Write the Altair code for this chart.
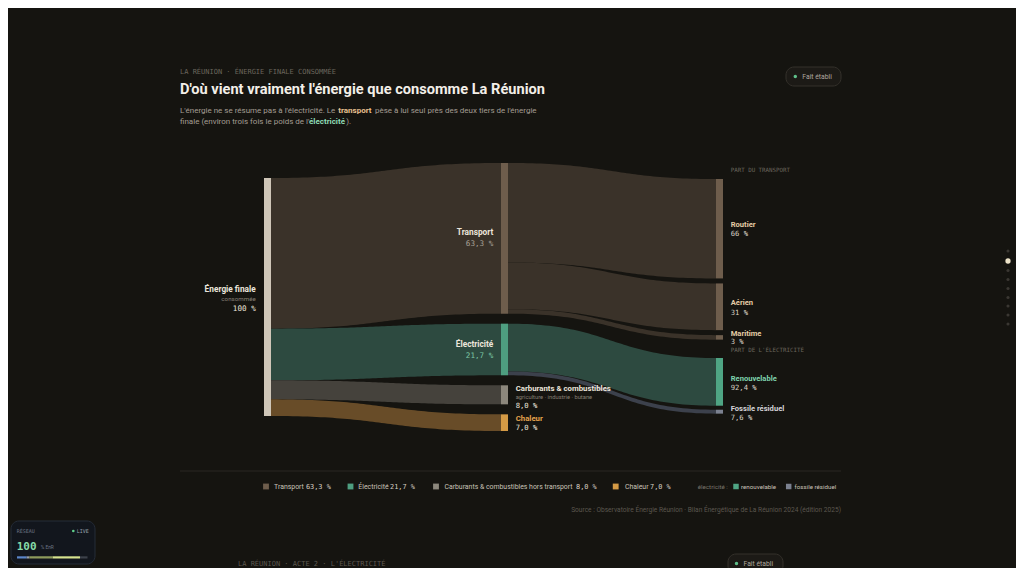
import altair as alt
import pandas as pd
import numpy as np

# ---------------- data ----------------
categories = ["Transport", "Électricité", "Carburants & combustibles", "Chaleur"]
shares = [63.3, 21.7, 8.0, 7.0]
transport_modes = ["Routier", "Aérien", "Maritime"]
transport_pct = [66, 31, 3]
elec_sources = ["Renouvelable", "Fossile résiduel"]
elec_pct = [92.4, 7.6]
share_labels = ["63,3 %", "21,7 %", "8,0 %", "7,0 %"]
transport_labels = ["66 %", "31 %", "3 %"]
elec_labels = ["92,4 %", "7,6 %"]

# ---------------- style / layout ----------------
BG = "#151410"
PX = 2.38          # pixels per percent of final energy
LEFT_TOP, MID_TOP, MID_GAP = 178, 163, 10
RT_TOP, RT_GAP = 179, 5
RE_TOP, RE_GAP = 358, 4
XL, XM, XR, NW = 264, 501, 716, 7
node_cols = ["#6e5d4c", "#4e9e80", "#8c877c", "#d49a45"]
link_cols = ["#3a3229", "#2d4a40", "#45423c", "#684c28"]
tmode_node, tmode_link = "#6e5d4c", "#3a3229"
elec_node = ["#4fa584", "#7b8190"]
elec_link = ["#2d4a40", "#3c414c"]

XS = alt.Scale(domain=[8, 1016], nice=False, zero=False)
YS = alt.Scale(domain=[8, 568], nice=False, zero=False, reverse=True)


def X(f):
    return alt.X(f, type="quantitative", scale=XS, axis=None)


def Y(f):
    return alt.Y(f, type="quantitative", scale=YS, axis=None, stack=None)


# ---------------- nodes ----------------
nodes = []
nodes.append(dict(x=XL, x2=XL + NW, y=LEFT_TOP, y2=LEFT_TOP + 100 * PX, c="#cfc6b8"))
left_seg, mid_seg = [], []
cum = 0.0
for i, s in enumerate(shares):
    left_seg.append((LEFT_TOP + cum * PX, LEFT_TOP + (cum + s) * PX))
    top = MID_TOP + cum * PX + i * MID_GAP
    mid_seg.append((top, top + s * PX))
    nodes.append(dict(x=XM, x2=XM + NW, y=top, y2=top + s * PX, c=node_cols[i]))
    cum += s

links = []
for i in range(4):
    links.append((f"l{i}", XL + NW, XM, left_seg[i], mid_seg[i], link_cols[i]))

right_t = []
cum = 0.0
for j, p in enumerate(transport_pct):
    v = shares[0] * p / 100
    src = (mid_seg[0][0] + cum * PX, mid_seg[0][0] + (cum + v) * PX)
    top = RT_TOP + cum * PX + j * RT_GAP
    right_t.append((top, top + v * PX))
    nodes.append(dict(x=XR, x2=XR + NW, y=top, y2=top + v * PX, c=tmode_node))
    links.append((f"t{j}", XM + NW, XR, src, right_t[-1], tmode_link))
    cum += v

right_e = []
cum = 0.0
for j, p in enumerate(elec_pct):
    v = shares[1] * p / 100
    src = (mid_seg[1][0] + cum * PX, mid_seg[1][0] + (cum + v) * PX)
    top = RE_TOP + cum * PX + j * RE_GAP
    right_e.append((top, top + v * PX))
    nodes.append(dict(x=XR, x2=XR + NW, y=top, y2=top + v * PX, c=elec_node[j]))
    links.append((f"e{j}", XM + NW, XR, src, right_e[-1], elec_link[j]))
    cum += v

rows = []
t = np.linspace(0, 1, 60)
fx = 1.5 * t * (1 - t) + t ** 3
fy = 3 * t ** 2 - 2 * t ** 3
for name, x0, x1, (a0, a1), (b0, b1), col in links:
    for k in range(len(t)):
        rows.append(dict(link=name, x=x0 + (x1 - x0) * fx[k],
                         yt=a0 + (b0 - a0) * fy[k], yb=a1 + (b1 - a1) * fy[k], c=col))
link_df = pd.DataFrame(rows)
node_df = pd.DataFrame(nodes)

link_layer = alt.Chart(link_df).mark_area(interpolate="linear").encode(
    x=X("x"), y=Y("yt"), y2="yb", detail="link:N", color=alt.Color("c:N", scale=None))
node_layer = alt.Chart(node_df).mark_rect().encode(
    x=X("x"), x2="x2", y=Y("y"), y2="y2", color=alt.Color("c:N", scale=None))

# ---------------- decorations (boxes) ----------------
boxes = pd.DataFrame([
    dict(x=786, x2=841, y=67, y2=86, f="#1c1a16", s="#34312b"),
    dict(x=728, x2=783, y=554, y2=574, f="#1c1a16", s="#34312b"),
    dict(x=11, x2=95, y=521, y2=564, f="#12161d", s="#252c38"),
])
box_layer = alt.Chart(boxes).mark_rect(cornerRadius=8, strokeWidth=1).encode(
    x=X("x"), x2="x2", y=Y("y"), y2="y2",
    fill=alt.Fill("f:N", scale=None), stroke=alt.Stroke("s:N", scale=None))

sep = pd.DataFrame([dict(x=180, x2=841, y=471)])
sep_layer = alt.Chart(sep).mark_rule(color="#2a2722", strokeWidth=1).encode(
    x=X("x"), x2="x2", y=Y("y"))

bar = pd.DataFrame([
    dict(x=17, x2=26.7, c="#5b86c9"), dict(x=26.7, x2=29.3, c="#9aa0aa"),
    dict(x=29.3, x2=52.7, c="#8d9a5c"), dict(x=52.7, x2=80, c="#d6e38f"),
    dict(x=80, x2=87.5, c="#3c414a")])
bar["y"], bar["y2"] = 556.3, 558.5
bar_layer = alt.Chart(bar).mark_rect().encode(
    x=X("x"), x2="x2", y=Y("y"), y2="y2", color=alt.Color("c:N", scale=None))

# legend markers + dots
marks = pd.DataFrame([
    dict(x=266, y=486.5, c=node_cols[0], s=34), dict(x=350.5, y=486.5, c=node_cols[1], s=34),
    dict(x=436, y=486.5, c=node_cols[2], s=34), dict(x=615.7, y=486.5, c=node_cols[3], s=34),
    dict(x=736, y=486.5, c=elec_node[0], s=30), dict(x=788.7, y=486.5, c=elec_node[1], s=30),
])
mark_layer = alt.Chart(marks).mark_square(opacity=1, cornerRadius=2).encode(
    x=X("x"), y=Y("y"), color=alt.Color("c:N", scale=None), size=alt.Size("s:Q", scale=None))

dot_y = [251, 261, 270.5, 279.5, 288.5, 297.5, 306, 315, 324]
dots = pd.DataFrame(dict(x=[1008] * 9, y=dot_y,
                         c=["#3a3732", "#ece3c8"] + ["#3a3732"] * 7,
                         s=[10, 28] + [10] * 7))
dots = pd.concat([dots, pd.DataFrame([
    dict(x=795.3, y=76.5, c="#5fbf8a", s=12),
    dict(x=736.5, y=563.5, c="#5fbf8a", s=12),
    dict(x=73.3, y=531, c="#5fcf8a", s=7),
])])
dot_layer = alt.Chart(dots).mark_circle(opacity=1).encode(
    x=X("x"), y=Y("y"), color=alt.Color("c:N", scale=None), size=alt.Size("s:Q", scale=None))


# ---------------- text ----------------
def tl(data, font, weight="normal", align="left"):
    return alt.Chart(pd.DataFrame(data, columns=["x", "y", "t", "s", "c"])).mark_text(
        font=font, fontWeight=weight, align=align, baseline="middle").encode(
        x=X("x"), y=Y("y"), text="t:N",
        size=alt.Size("s:Q", scale=None), color=alt.Color("c:N", scale=None))


SANS = "Roboto"
MONO = "DejaVu Sans Mono"
WH = "#ece6dc"
GR = "#a8a196"
DIM = "#6a655c"
TAN = "#e3cda6"

sans_bold_right = [
    (255.7, 290, "Énergie finale", 8.3, WH),
    (493.3, 233.3, categories[0], 8.3, WH),
    (493.3, 345, categories[1], 8.3, WH),
]
sans_right = [(255.7, 299.3, "consommée", 6.2, "#857f75")]
mono_right = [
    (255.7, 309.3, "100 %", 7.6, WH),
    (493.3, 244.3, share_labels[0], 7.6, GR),
    (493.3, 356, share_labels[1], 7.6, "#7cc7a5"),
]
sans_bold_left = [
    (515.7, 389, categories[2], 7.8, WH),
    (515.7, 419.3, categories[3], 7.8, "#e3a24c"),
    (730.7, 225, transport_modes[0], 7.6, TAN),
    (730.7, 303.3, transport_modes[1], 7.6, TAN),
    (730.7, 334, transport_modes[2], 7.6, TAN),
    (730.7, 378.7, elec_sources[0], 7.6, "#7fd3ad"),
    (730.7, 409, elec_sources[1], 7.6, "#d4d3d8"),
    (180, 90, "D'où vient vraiment l'énergie que consomme La Réunion", 14.6, "#f3efe8"),
    (338.3, 110.7, "transport", 8.0, "#e8c190"),
    (309, 122, "électricité", 8.0, "#8fdcb5"),
]
sans_left = [
    (515.7, 396.7, "agriculture · industrie · butane", 5.8, "#857f75"),
    (180, 110.7, "L'énergie ne se résume pas à l'électricité. Le", 8.0, "#a49d93"),
    (375, 110.7, "pèse à lui seul près des deux tiers de l'énergie", 8.0, "#a49d93"),
    (180, 122, "finale (environ trois fois le poids de l'", 8.0, "#a49d93"),
    (346.3, 122, ").", 8.0, "#a49d93"),
    (802.3, 76.7, "Fait établi", 6.8, "#b0a99f"),
    (743.5, 563.5, "Fait établi", 6.8, "#b0a99f"),
    (274.1, 486.5, "Transport", 6.9, "#c9c2b7"),
    (358.3, 486.5, "Électricité", 6.9, "#c9c2b7"),
    (444.4, 486.5, "Carburants & combustibles hors transport", 6.9, "#c9c2b7"),
    (625, 486.5, "Chaleur", 6.9, "#c9c2b7"),
    (697.8, 486.5, "électricité :", 6.2, "#7a746b"),
    (741, 486.5, "renouvelable", 6.2, "#c9c2b7"),
    (794.6, 486.5, "fossile résiduel", 6.2, "#c9c2b7"),
    (40.7, 547.5, "% EnR", 4.8, "#6c7484"),
]
sans_right2 = [
    (841, 510, "Source : Observatoire Énergie Réunion · Bilan Énergétique de La Réunion 2024 (édition 2025)", 6.6, "#5c574f"),
]
mono_left = [
    (515.7, 406, share_labels[2], 7.2, WH),
    (515.7, 428.3, share_labels[3], 7.2, WH),
    (730.7, 234, transport_labels[0], 7.2, "#d8d0c4"),
    (730.7, 313.3, transport_labels[1], 7.2, "#d8d0c4"),
    (730.7, 342.3, transport_labels[2], 7.2, "#d8d0c4"),
    (730.7, 388.3, elec_labels[0], 7.2, "#d8d0c4"),
    (730.7, 418.3, elec_labels[1], 7.2, "#d8d0c4"),
    (305.9, 486.5, share_labels[0], 6.9, "#d8d0c4"),
    (390, 486.5, share_labels[1], 6.9, "#d8d0c4"),
    (576, 486.5, share_labels[2], 6.9, "#d8d0c4"),
    (650, 486.5, share_labels[3], 6.9, "#d8d0c4"),
    (180, 72, "LA RÉUNION · ÉNERGIE FINALE CONSOMMÉE", 7.0, DIM),
    (238, 563.5, "LA RÉUNION · ACTE 2 · L'ÉLECTRICITÉ", 7.0, "#5c574f"),
    (730.7, 170, "PART DU TRANSPORT", 5.8, DIM),
    (730.7, 350.3, "PART DE L'ÉLECTRICITÉ", 5.8, DIM),
    (16.7, 530.7, "RÉSEAU", 5.0, "#6c7484"),
    (76.7, 531, "LIVE", 5.0, "#9aa2ae"),
]
mono_bold_left = [(16.7, 547, "100", 11.0, "#86dba8")]

layers = [
    link_layer, node_layer, box_layer, sep_layer, bar_layer, mark_layer, dot_layer,
    tl(sans_bold_right, SANS, "bold", "right"),
    tl(sans_right, SANS, "normal", "right"),
    tl(mono_right, MONO, "normal", "right"),
    tl(sans_bold_left, SANS, "bold", "left"),
    tl(sans_left, SANS, "normal", "left"),
    tl(sans_right2, SANS, "normal", "right"),
    tl(mono_left, MONO, "normal", "left"),
    tl(mono_bold_left, MONO, "bold", "left"),
]

chart = alt.layer(*layers).properties(
    width=1008, height=560, padding=0,
    autosize=alt.AutoSizeParams(type="none"),
    background=BG,
).configure_view(stroke=None)

chart.save("out.html", embed_options={"renderer": "svg", "actions": False})
